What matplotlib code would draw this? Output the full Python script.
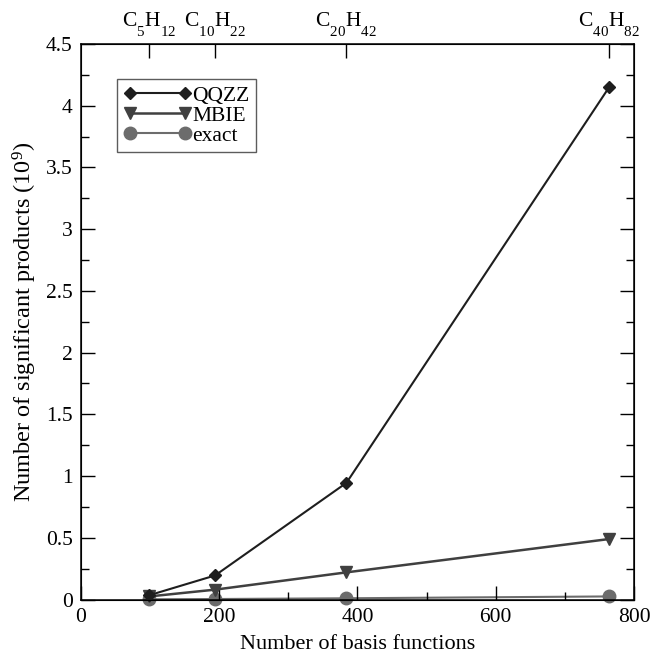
import matplotlib
matplotlib.use('Agg')
import matplotlib.pyplot as plt
from matplotlib.ticker import MultipleLocator

plt.rcParams['font.family'] = ['Liberation Serif', 'DejaVu Serif']
plt.rcParams['mathtext.fontset'] = 'custom'
plt.rcParams['mathtext.rm'] = 'Liberation Serif'
plt.rcParams['mathtext.it'] = 'Liberation Serif:italic'

# push subscripts further down, like the original figure
try:
    import matplotlib._mathtext as _mt
    _mt.FontConstantsBase.subdrop = 1.0
    _mt.FontConstantsBase.sub1 = 1.0
except Exception:
    pass

# basis functions (6-31G*) for each alkane
nbasis = [99, 194, 384, 764]
molecules = [r'C$_{5}$H$_{12}$', r'C$_{10}$H$_{22}$', r'C$_{20}$H$_{42}$', r'C$_{40}$H$_{82}$']
qqzz = [0.035, 0.195, 0.945, 4.15]
mbie = [0.025, 0.08, 0.22, 0.49]
exact = [0.002, 0.004, 0.01, 0.025]
yticks = [0, 0.5, 1, 1.5, 2, 2.5, 3, 3.5, 4, 4.5]
ylabels = ['0', '0.5', '1', '1.5', '2', '2.5', '3', '3.5', '4', '4.5']

fs = 15.5
fig = plt.figure(figsize=(6.51, 6.56), dpi=100)
ax = fig.add_axes([0.1244, 0.0861, 0.8495, 0.8468])

ax.plot(nbasis, qqzz, '-D', color='#1e1e1e', lw=1.5, ms=5.8, label='QQZZ', zorder=3, clip_on=False)
ax.plot(nbasis, mbie, '-v', color='#404040', lw=1.8, ms=8.5, label='MBIE', zorder=2, clip_on=False)
ax.plot(nbasis, exact, '-o', color='#6c6c6c', lw=1.5, ms=9, label='exact', zorder=1, clip_on=False)

ax.set_xlim(0, 800)
ax.set_ylim(0, 4.5)
ax.xaxis.set_major_locator(MultipleLocator(200))
ax.xaxis.set_minor_locator(MultipleLocator(100))
ax.set_yticks(yticks)
ax.set_yticklabels(ylabels)
ax.yaxis.set_minor_locator(MultipleLocator(0.25))
ax.tick_params(which='both', direction='in', right=True, top=False, labelsize=fs, width=1.0)
ax.tick_params(which='major', length=10, pad=6)
ax.tick_params(which='minor', length=5.5)
for s in ax.spines.values():
    s.set_linewidth(1.1)

ax.set_xlabel('Number of basis functions', fontsize=16, labelpad=6)
ax.set_ylabel(r'Number of significant products (10$^{9}$)', fontsize=17.5, labelpad=5)

top = ax.twiny()
top.set_xlim(ax.get_xlim())
top.set_xticks(nbasis)
top.set_xticklabels(molecules, fontsize=fs)
top.tick_params(direction='in', length=10, pad=4, width=1.0)

leg = ax.legend(loc='upper left', bbox_to_anchor=(0.065, 0.937), numpoints=2,
                fontsize=fs, frameon=True, fancybox=False, edgecolor='#333333',
                handlelength=3.16, handletextpad=0.05, borderpad=0.3,
                labelspacing=0.0, borderaxespad=0)
leg.get_frame().set_linewidth(1.0)

fig.savefig('out.png', dpi=100)
